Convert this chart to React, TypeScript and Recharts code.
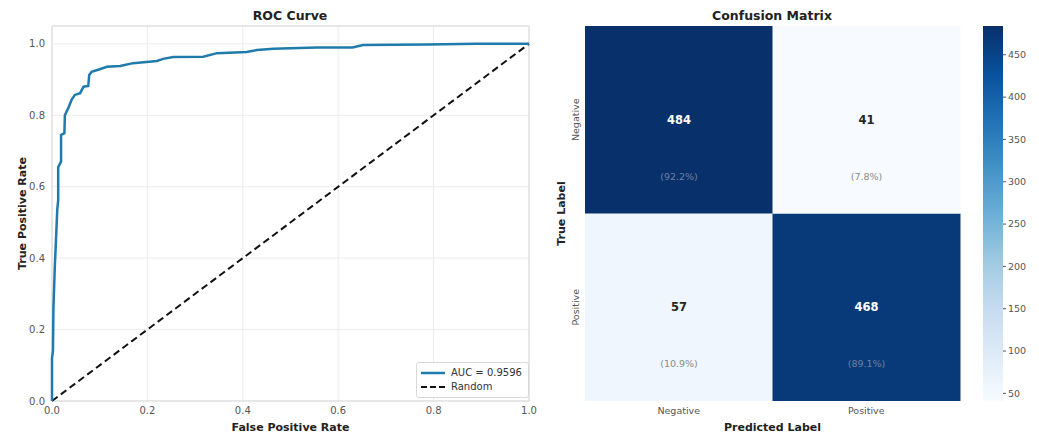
import {
  Bar,
  BarChart,
  CartesianGrid,
  Legend,
  Line,
  LineChart,
  ReferenceArea,
  XAxis,
  YAxis,
} from "recharts";

// ROC curve
const fpr = [
  0, 0, 0.002, 0.003, 0.006, 0.008, 0.011, 0.013, 0.013, 0.019, 0.019, 0.026,
  0.027, 0.034, 0.041, 0.048, 0.059, 0.066, 0.076, 0.078, 0.083, 0.1, 0.115,
  0.143, 0.17, 0.22, 0.233, 0.254, 0.317, 0.346, 0.408, 0.43, 0.464, 0.555,
  0.63, 0.652, 0.786, 0.89, 1.0,
];
const tpr = [
  0, 0.12, 0.14, 0.26, 0.38, 0.44, 0.535, 0.563, 0.655, 0.67, 0.745, 0.75, 0.8,
  0.82, 0.843, 0.857, 0.862, 0.88, 0.882, 0.913, 0.922, 0.929, 0.936, 0.938,
  0.946, 0.952, 0.958, 0.963, 0.964, 0.974, 0.977, 0.983, 0.986, 0.99, 0.99,
  0.997, 0.998, 1.0, 1.0,
];
const chanceFpr = [0, 1];
const chanceTpr = [0, 1];
const aucLabel = "AUC = 0.9596";
const rateTicks = [0, 0.2, 0.4, 0.6, 0.8, 1.0];

// confusion matrix: rows = true label, columns = predicted label
const classes = ["Negative", "Positive"];
const trueNegativeRow = [484, 41];
const truePositiveRow = [57, 468];
const colorbarTicks = [50, 100, 150, 200, 250, 300, 350, 400, 450];

const rocData = fpr.map((x, i) => ({ fpr: x, tpr: tpr[i] }));
const chanceData = chanceFpr.map((x, i) => ({ fpr: x, tpr: chanceTpr[i] }));
const matrixData = classes.map((pred, j) => ({
  pred,
  neg: trueNegativeRow[j],
  pos: truePositiveRow[j],
}));

const allCounts = [...trueNegativeRow, ...truePositiveRow];
const vmin = Math.min(...allCounts);
const vmax = Math.max(...allCounts);

const FONT = "'DejaVu Sans', sans-serif";
const ROC_BLUE = "#1f7bab";

// matplotlib "Blues"
const BLUES = [
  [247, 251, 255],
  [222, 235, 247],
  [198, 219, 239],
  [158, 202, 225],
  [107, 174, 214],
  [66, 146, 198],
  [33, 113, 181],
  [8, 81, 156],
  [8, 48, 107],
];

function blues(t: number) {
  const c = Math.max(0, Math.min(1, t)) * (BLUES.length - 1);
  const i = Math.min(BLUES.length - 2, Math.floor(c));
  const f = c - i;
  const rgb = BLUES[i].map((v, k) => Math.round(v + (BLUES[i + 1][k] - v) * f));
  return `rgb(${rgb.join(",")})`;
}

const cellShape = (row: number[]) => (props: any) => {
  const { x, y, width, height, index } = props;
  const count = row[index];
  const total = row[0] + row[1];
  const dark = count > (vmin + vmax) / 2;
  const cx = x + width / 2;
  return (
    <g>
      <rect x={x} y={y} width={width} height={height} fill={blues((count - vmin) / (vmax - vmin))} />
      <text
        x={cx}
        y={y + height / 2}
        textAnchor="middle"
        dominantBaseline="central"
        fontFamily={FONT}
        fontWeight="bold"
        fontSize={11.5}
        fill={dark ? "#ffffff" : "#262626"}
      >
        {count}
      </text>
      <text
        x={cx}
        y={y + height * 0.8}
        textAnchor="middle"
        dominantBaseline="central"
        fontFamily={FONT}
        fontSize={9.5}
        fill={dark ? "#6f80a0" : "#8a8a8a"}
      >
        ({((count / total) * 100).toFixed(1)}%)
      </text>
    </g>
  );
};

const RocLegend = () => (
  <div
    style={{
      border: "1px solid #d8d8d8",
      borderRadius: 3,
      background: "rgba(255,255,255,0.85)",
      padding: "3px 6px 3px 4px",
      fontFamily: FONT,
      fontSize: 10,
      color: "#333",
      lineHeight: "14px",
    }}
  >
    <div style={{ display: "flex", alignItems: "center" }}>
      <svg width={24} height={10} style={{ marginRight: 6 }}>
        <line x1={0} y1={5} x2={24} y2={5} stroke={ROC_BLUE} strokeWidth={2.5} />
      </svg>
      {aucLabel}
    </div>
    <div style={{ display: "flex", alignItems: "center" }}>
      <svg width={24} height={10} style={{ marginRight: 6 }}>
        <line x1={0} y1={5} x2={24} y2={5} stroke="#111" strokeWidth={2} strokeDasharray="6 3" />
      </svg>
      Random
    </div>
  </div>
);

const matrixYTick = (props: any) => {
  const { y, payload } = props;
  const label = payload.value > 1 ? classes[0] : classes[1];
  return (
    <text
      x={55}
      y={y}
      transform={`rotate(-90, 55, ${y})`}
      textAnchor="middle"
      dominantBaseline="central"
      fontFamily={FONT}
      fontSize={9.5}
      fill="#555"
    >
      {label}
    </text>
  );
};

const titleStyle: any = {
  position: "absolute",
  top: 8,
  fontFamily: FONT,
  fontWeight: "bold",
  fontSize: 12.5,
  color: "#222",
  transform: "translateX(-50%)",
  whiteSpace: "nowrap",
};

const labelStyle = { fontFamily: FONT, fontWeight: "bold", fontSize: 11, fill: "#222" };
const tickStyle = { fontFamily: FONT, fontSize: 10, fill: "#555" };

export default function App() {
  return (
    <div style={{ position: "absolute", left: 0, top: 0, width: 1039, height: 435, background: "#fff" }}>
      <div style={{ ...titleStyle, left: 290 }}>ROC Curve</div>
      <div style={{ ...titleStyle, left: 772 }}>Confusion Matrix</div>

      <div style={{ position: "absolute", left: 0, top: 0 }}>
        <LineChart width={540} height={435} margin={{ top: 26, right: 11, left: 0, bottom: 0 }}>
          <CartesianGrid stroke="#ececec" />
          <XAxis
            type="number"
            dataKey="fpr"
            domain={[0, 1]}
            ticks={rateTicks}
            tickFormatter={(v) => v.toFixed(1)}
            tickLine={false}
            axisLine={false}
            tickSize={4}
            tick={tickStyle}
            height={34}
            label={{ value: "False Positive Rate", position: "insideBottom", offset: 4, style: labelStyle }}
          />
          <YAxis
            type="number"
            domain={[0, 1.05]}
            ticks={rateTicks}
            tickFormatter={(v) => v.toFixed(1)}
            tickLine={false}
            axisLine={false}
            tickSize={5}
            tickMargin={2}
            tick={tickStyle}
            width={52}
            label={{
              value: "True Positive Rate",
              angle: -90,
              position: "insideLeft",
              offset: 22,
              style: { ...labelStyle, textAnchor: "middle" },
            }}
          />
          <ReferenceArea x1={0} x2={1} y1={0} y2={1.05} fill="none" stroke="#d9d9d9" strokeWidth={1} ifOverflow="visible" />
          <Line
            data={chanceData}
            dataKey="tpr"
            name="Random"
            stroke="#111"
            strokeWidth={2}
            strokeDasharray="7 4"
            dot={false}
            isAnimationActive={false}
          />
          <Line
            data={rocData}
            dataKey="tpr"
            name={aucLabel}
            type="linear"
            stroke={ROC_BLUE}
            strokeWidth={2.5}
            dot={false}
            isAnimationActive={false}
          />
          <Legend
            layout="horizontal"
            verticalAlign="middle"
            align="center"
            content={<RocLegend />}
            wrapperStyle={{ left: 416, top: 362, width: "auto" }}
          />
        </LineChart>
      </div>

      <div style={{ position: "absolute", left: 520, top: 0 }}>
        <BarChart
          width={450}
          height={435}
          data={matrixData}
          margin={{ top: 26, right: 10, left: 0, bottom: 0 }}
          barCategoryGap={0}
          barGap={0}
        >
          <XAxis
            dataKey="pred"
            tickLine={false}
            axisLine={false}
            tickSize={4}
            tick={{ ...tickStyle, fontSize: 9.5 }}
            height={34}
            label={{ value: "Predicted Label", position: "insideBottom", offset: 4, style: labelStyle }}
          />
          <YAxis
            type="number"
            domain={[0, 2]}
            ticks={[0.5, 1.5]}
            tickLine={false}
            axisLine={false}
            tick={matrixYTick}
            width={65}
            label={{
              value: "True Label",
              angle: -90,
              position: "insideLeft",
              offset: 41,
              style: { ...labelStyle, textAnchor: "middle" },
            }}
          />
          <Bar
            dataKey={() => 1}
            stackId="m"
            shape={cellShape(truePositiveRow)}
            isAnimationActive={false}
          />
          <Bar
            dataKey={() => 1}
            stackId="m"
            shape={cellShape(trueNegativeRow)}
            isAnimationActive={false}
          />
        </BarChart>
      </div>

      <div style={{ position: "absolute", left: 960, top: 0 }}>
        <BarChart
          width={79}
          height={435}
          data={[{ k: "cb", span: [vmin, vmax] }]}
          margin={{ top: 26, right: 0, left: 23, bottom: 34 }}
          barCategoryGap={0}
        >
          <defs>
            <linearGradient id="bluesBar" x1="0" y1="0" x2="0" y2="1">
              {BLUES.slice()
                .reverse()
                .map((c, i) => (
                  <stop key={i} offset={`${(i / (BLUES.length - 1)) * 100}%`} stopColor={`rgb(${c.join(",")})`} />
                ))}
            </linearGradient>
          </defs>
          <XAxis dataKey="k" hide />
          <YAxis
            orientation="right"
            type="number"
            domain={[vmin, vmax]}
            ticks={colorbarTicks}
            tickLine={{ stroke: "#555" }}
            axisLine={false}
            tickSize={3}
            tickMargin={2}
            tick={{ ...tickStyle, fontSize: 9.5 }}
            width={36}
          />
          <Bar dataKey="span" fill="url(#bluesBar)" isAnimationActive={false} />
        </BarChart>
      </div>
    </div>
  );
}
